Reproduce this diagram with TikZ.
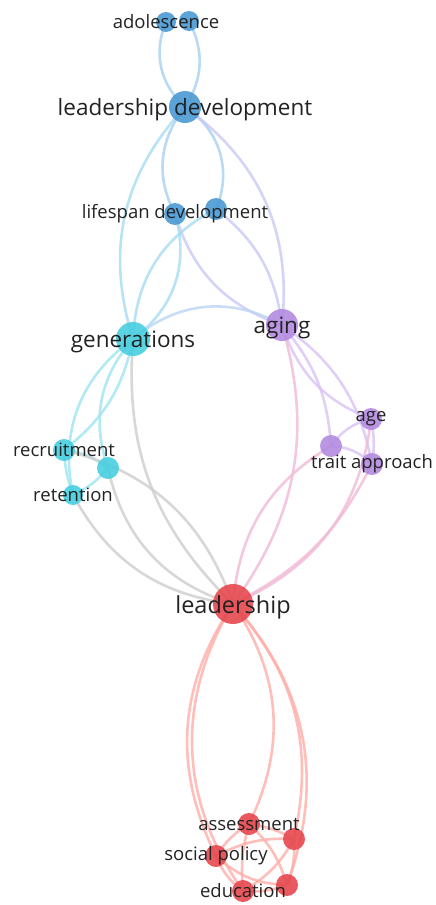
\documentclass[tikz,border=0pt]{standalone}
\usepackage{fontspec}
\setmainfont{Open Sans}
\definecolor{nblue}{HTML}{4A9AD4}
\definecolor{ncyan}{HTML}{48CEDF}
\definecolor{npurp}{HTML}{B38BE0}
\definecolor{nred}{HTML}{E5484F}
\definecolor{eblue}{HTML}{A7CFF2}
\definecolor{ecyan}{HTML}{9EE5F1}
\definecolor{epurp}{HTML}{D9C3F4}
\definecolor{ered}{HTML}{FFAEA8}
\definecolor{ebc}{HTML}{A5DCF2}
\definecolor{ebp}{HTML}{C9C8F6}
\definecolor{ecp}{HTML}{BCD6F4}
\definecolor{ecr}{HTML}{CFCCCC}
\definecolor{epr}{HTML}{F0BAD6}
\definecolor{labc}{HTML}{222222}
\begin{document}
\begin{tikzpicture}[x=1pt,y=-1pt,
  kw/.style={circle,inner sep=0pt,minimum size=#1,fill opacity=0.9},
  kb/.style={kw=#1,fill=nblue},
  kc/.style={kw=#1,fill=ncyan},
  kp/.style={kw=#1,fill=npurp},
  kr/.style={kw=#1,fill=nred},
  ed/.style={line width=2.6pt,draw=#1,draw opacity=0.8},
  lab/.style={inner sep=0pt,text=labc,yshift=0pt,font=\fontsize{18.5}{20}\selectfont},
  labbig/.style={inner sep=0pt,text=labc,yshift=-3pt,font=\fontsize{22.5}{24}\selectfont},
  labhuge/.style={inner sep=0pt,text=labc,yshift=-3pt,font=\fontsize{23.5}{25}\selectfont}]
\useasboundingbox (0,0) rectangle (436,905);
% node coordinates (circles drawn later)
\coordinate (ado) at (166,22);
\coordinate (ado2) at (189,21);
\coordinate (ld) at (185,107);
\coordinate (ls) at (175,214);
\coordinate (ls2) at (216,209);
\coordinate (gen) at (133,339);
\coordinate (aging) at (282,325);
\coordinate (age) at (371,419);
\coordinate (tr1) at (331,446);
\coordinate (tr) at (372,464);
\coordinate (rec) at (64,450);
\coordinate (c2) at (108,468);
\coordinate (ret) at (73,495);
\coordinate (lead) at (233,604);
\coordinate (ass) at (249,824);
\coordinate (r2) at (294,839);
\coordinate (sp) at (216,856);
\coordinate (r3) at (287,885);
\coordinate (edu) at (243,891);
% edges
\draw[ed=eblue] (ado) to[bend right=35] (ld);
\draw[ed=eblue] (ado2) to[bend left=30] (ld);
\draw[ed=eblue] (ld) to[bend right=33] (ls);
\draw[ed=eblue] (ld) to[bend left=40] (ls2);
\draw[ed=ebc] (ld) to[bend right=30] (gen);
\draw[ed=ebp] (ld) to[bend left=30] (aging);
\draw[ed=ebp] (ls2) to[bend left=22] (aging);
\draw[ed=ebp] (ls) to[bend right=27] (aging);
\draw[ed=ebc] (ls) to[bend left=35] (gen);
\draw[ed=ebc] (ls2) to[bend right=30] (gen);
\draw[ed=ecp] (gen) to[bend left=35] (aging);
% cyan cluster
\draw[ed=ecyan] (gen) to[bend left=20] (rec);
\draw[ed=ecyan] (gen) to[bend right=33] (ret);
\draw[ed=ecyan] (gen) to[bend right=30] (c2);
\draw[ed=ecr] (gen) to[bend right=25] (lead);
\draw[ed=ecyan] (rec) to[bend left=15] (c2);
\draw[ed=ecyan] (rec) to[bend right=8] (ret);
\draw[ed=ecyan] (c2) to[bend left=12] (ret);
\draw[ed=ecr] (rec) to[bend left=28] (lead);
\draw[ed=ecr] (c2) to[bend right=30] (lead);
\draw[ed=ecr] (ret) to[bend right=27] (lead);
% purple cluster
\draw[ed=epurp] (aging) to[bend right=25] (age);
\draw[ed=epurp] (aging) to[bend left=22] (tr);
\draw[ed=epurp] (aging) to[bend left=18] (tr1);
\draw[ed=epr] (aging) to[bend left=26] (lead);
\draw[ed=epurp] (age) to[bend right=20] (tr1);
\draw[ed=epurp] (age) to[bend left=10] (tr);
\draw[ed=epurp] (tr1) to[bend left=20] (tr);
\draw[ed=epr] (tr1) to[bend right=27] (lead);
\draw[ed=epr] (tr) to[bend left=18] (lead);
\draw[ed=epr] (age) to[bend left=30] (lead);
% red cluster
\draw[ed=ered] (lead) to[bend right=30] (sp);
\draw[ed=ered] (lead) to[bend right=33] (edu);
\draw[ed=ered] (lead) to[bend left=30] (ass);
\draw[ed=ered] (lead) to[bend left=27] (r2);
\draw[ed=ered] (lead) to[bend left=31] (r3);
\draw[ed=ered] (ass) to[bend left=10] (r2);
\draw[ed=ered] (sp) to[bend left=12] (ass);
\draw[ed=ered] (sp) to[bend left=15] (r2);
\draw[ed=ered] (sp) to[bend right=15] (edu);
\draw[ed=ered] (sp) to[bend right=20] (r3);
\draw[ed=ered] (ass) to[bend right=10] (edu);
\draw[ed=ered] (edu) to[bend right=12] (r3);
\draw[ed=ered] (edu) to[bend right=15] (r2);
\draw[ed=ered] (r2) to[bend left=12] (r3);
\draw[ed=ered] (ass) to[bend left=15] (r3);
% circles
\node[kb=20] (nado) at (ado) {};
\node[kb=20] (nado2) at (ado2) {};
\node[kb=32] (nld) at (ld) {};
\node[kb=22] (nls) at (ls) {};
\node[kb=22] (nls2) at (ls2) {};
\node[kc=34] (ngen) at (gen) {};
\node[kp=32] (naging) at (aging) {};
\node[kp=22] (nage) at (age) {};
\node[kp=22] (ntr1) at (tr1) {};
\node[kp=22] (ntr) at (tr) {};
\node[kc=22] (nrec) at (rec) {};
\node[kc=22] (nc2) at (c2) {};
\node[kc=20] (nret) at (ret) {};
\node[kr=40] (nlead) at (lead) {};
\node[kr=22] (nass) at (ass) {};
\node[kr=22] (nr2) at (r2) {};
\node[kr=22] (nsp) at (sp) {};
\node[kr=22] (nr3) at (r3) {};
\node[kr=22] (nedu) at (edu) {};
% labels
\node[lab] (tado) at (ado) {adolescence};
\node[labbig] (tld) at (ld) {leadership development};
\node[lab] (tls) at (ls) {lifespan development};
\node[labbig] (tgen) at (gen) {generations};
\node[labbig] (taging) at (aging) {aging};
\node[lab] (tage) at (age) {age};
\node[lab] (ttr) at (tr) {trait approach};
\node[lab] (trec) at (rec) {recruitment};
\node[lab] (tret) at (ret) {retention};
\node[labhuge] (tlead) at (lead) {leadership};
\node[lab] (tass) at (ass) {assessment};
\node[lab] (tsp) at (sp) {social policy};
\node[lab] (tedu) at (edu) {education};
\end{tikzpicture}
\end{document}
